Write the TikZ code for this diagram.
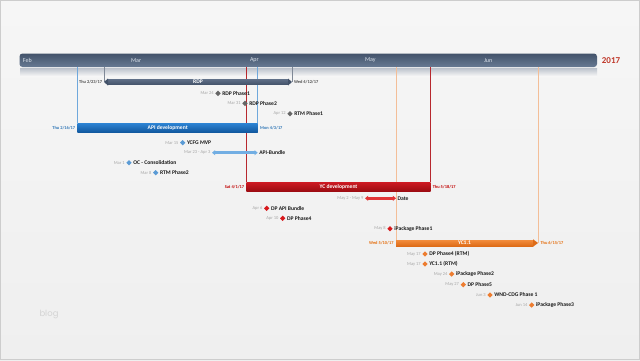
\documentclass[tikz,border=0pt]{standalone}
\usepackage{fontspec}
\setmainfont{Carlito}
\newfontfamily\blogfont{Poppins}
\usetikzlibrary{shapes.geometric,arrows.meta}
\definecolor{bgtop}{HTML}{F6F6F6}
\definecolor{bgbot}{HTML}{EFEFEF}
\definecolor{bordc}{HTML}{CDCDCD}
\definecolor{tltop}{HTML}{43536B}
\definecolor{tlbot}{HTML}{677A93}
\definecolor{striptop}{HTML}{BFC5CE}
\definecolor{monthc}{HTML}{DCE3EC}
\definecolor{yearc}{HTML}{C0392B}
\definecolor{slatetop}{HTML}{5E6E86}
\definecolor{slatebot}{HTML}{435269}
\definecolor{bluetop}{HTML}{2C82D2}
\definecolor{bluebot}{HTML}{1259A0}
\definecolor{redtop}{HTML}{CC1A22}
\definecolor{redbot}{HTML}{9C0C12}
\definecolor{orgtop}{HTML}{F28C3C}
\definecolor{orgbot}{HTML}{DE6C18}
\definecolor{lineblue}{HTML}{6FA8DC}
\definecolor{linered}{HTML}{B7282E}
\definecolor{lineorg}{HTML}{F3BE98}
\definecolor{linegray}{HTML}{7F8896}
\definecolor{msgray}{HTML}{666666}
\definecolor{msblue}{HTML}{5B9BD5}
\definecolor{msred}{HTML}{D7191C}
\definecolor{msorange}{HTML}{ED7D31}
\definecolor{abblue}{HTML}{72AEE3}
\definecolor{datered}{HTML}{E23436}
\definecolor{dategray}{HTML}{A6A6A6}
\definecolor{txt}{HTML}{1A1A1A}
\definecolor{tgray}{HTML}{4D4D4D}
\definecolor{tblue}{HTML}{2E75B6}
\definecolor{tred}{HTML}{C00000}
\definecolor{torange}{HTML}{E46C0A}
\definecolor{blogc}{HTML}{D4D4D4}
\newcommand\mstone[6]{%
  \node[ms, fill=#4] (#1) at (#2,#3) {};
  \node[dt] (#1d) at (#1.west) {#5};
  \node[lbl] (#1l) at (#1.east) {#6};
}
\begin{document}
\begin{tikzpicture}[x=1pt,y=-1pt,
  every node/.style={inner sep=0pt, outer sep=0pt},
  ms/.style={diamond, minimum size=5.4pt, inner sep=0pt},
  lbl/.style={right=1.6pt, font=\fontsize{5.6}{6}\selectfont\bfseries, text=txt},
  dt/.style={left=1.6pt, font=\fontsize{4.5}{5}\selectfont, text=dategray},
  edl/.style={font=\fontsize{4.4}{5}\selectfont\bfseries},
  month/.style={anchor=west, font=\fontsize{6}{7}\selectfont, text=monthc},
  barlbl/.style={font=\fontsize{5.6}{6}\selectfont\bfseries, text=white},
  tlbar/.style={rectangle, rounded corners=3pt, minimum width=577.5pt, minimum height=13.5pt, top color=tltop, bottom color=tlbot},
  vline/.style={line width=0.7pt},
  ivarrow/.style={line width=3pt, {Triangle[length=3.2pt,width=5pt]}-{Triangle[length=3.2pt,width=5pt]}}
]
\useasboundingbox (0,0) rectangle (640,360);
\shade[top color=bgtop, bottom color=bgbot] (0,0) rectangle (640,360);
\draw[bordc, line width=1.2pt] (0.6,0.6) rectangle (639.4,359.4);

% timeline
\shade[top color=striptop, bottom color=bgtop] (20,68.5) rectangle (597,76);
\node[tlbar] (tl) at (308.25,60.25) {};
\node[month] (feb) at (23,60.5) {Feb};
\node[month] (mar) at (131,60.5) {Mar};
\node[month] (apr) at (250,60.5) {Apr};
\node[month] (may) at (365,60.5) {May};
\node[month] (jun) at (484,60.5) {Jun};
\node[font=\fontsize{9}{10}\selectfont\bfseries, text=yearc] (yr) at (611,60.5) {2017};

% bar anchors
\coordinate (rdpL) at (104,82);
\coordinate (rdpR) at (292,82);
\coordinate (yc11R) at (538,243);
\coordinate (yc11L) at (396,243);

% bars
\node[minimum width=180pt, minimum height=8.7pt, top color=bluetop, bottom color=bluebot, barlbl] (api) at (167.7,127.7) {};
\node[minimum width=183.6pt, minimum height=9pt, top color=redtop, bottom color=redbot, barlbl] (ycd) at (338.5,186.8) {};

% vertical lines
\draw[vline, linegray] (rdpL |- tl.south) -- (rdpL);
\draw[vline, linegray] (rdpR |- tl.south) -- (rdpR);
\draw[vline, lineblue] (api.north west |- tl.south) -- (api.north west);
\draw[vline, lineblue] (api.north east |- tl.south) -- (api.north east);
\draw[vline, linered] (ycd.north west |- tl.south) -- (ycd.north west);
\draw[vline, linered] (ycd.north east |- tl.south) -- (ycd.north east);
\draw[vline, lineorg] (yc11L |- tl.south) -- (yc11L);
\draw[vline, lineorg] (yc11R |- tl.south) -- (yc11R);

% bars on top of lines
\node[minimum width=180pt, minimum height=8.7pt, top color=bluetop, bottom color=bluebot, barlbl] (api2) at (api) {API development};
\node[minimum width=183.6pt, minimum height=9pt, top color=redtop, bottom color=redbot, barlbl] (ycd2) at (ycd) {YC development};

% RDP bar with two heads
\node[minimum width=180pt, minimum height=5.4pt, top color=slatetop, bottom color=slatebot, barlbl] (rdp) at (198,82) {RDP};
\fill[slatebot] ([yshift=0.8pt]rdp.north west) -- (rdpL) -- ([yshift=-0.8pt]rdp.south west) -- cycle;
\fill[slatebot] ([yshift=0.8pt]rdp.north east) -- (rdpR) -- ([yshift=-0.8pt]rdp.south east) -- cycle;

% YC1.1 bar with right head
\node[minimum width=137pt, minimum height=6pt, top color=orgtop, bottom color=orgbot, barlbl] (yc11) at (464.5,243) {YC1.1};
\fill[orgbot] ([yshift=0.8pt]yc11.north east) -- (yc11R) -- ([yshift=-0.8pt]yc11.south east) -- cycle;

% bar end labels
\node[edl, text=tgray, left=2pt] (rdpLd) at (rdpL) {Thu 2/23/17};
\node[edl, text=tgray, right=2pt] (rdpRd) at (rdpR) {Wed 4/12/17};
\node[edl, text=tblue, left=2.5pt] (apiLd) at (api.west) {Thu 2/16/17};
\node[edl, text=tblue, right=2.5pt] (apiRd) at (api.east) {Mon 4/3/17};
\node[edl, text=tred, left=2.5pt] (ycdLd) at (ycd.west) {Sat 4/1/17};
\node[edl, text=tred, right=2.5pt] (ycdRd) at (ycd.east) {Thu 5/18/17};
\node[edl, text=torange, left=2.5pt] (yc11Ld) at (yc11.west) {Wed 5/10/17};
\node[edl, text=torange, right=2.5pt] (yc11Rd) at (yc11R) {Thu 6/15/17};

% interval arrows
\coordinate (abL) at (212,152.7);
\coordinate (abR) at (257.7,152.7);
\draw[ivarrow, abblue] (abL) -- (abR);
\node[dt] (abd) at (abL) {Mar 23 - Apr 3};
\node[lbl] (abl) at (abR) {API-Bundle};
\coordinate (dtL) at (365,198.3);
\coordinate (dtR) at (396,198.3);
\draw[ivarrow, datered] (dtL) -- (dtR);
\node[dt] (dtd) at (dtL) {May 2 - May 9};
\node[lbl] (dtl) at (dtR) {Date};

% milestones
\mstone{m1}{218}{93.3}{msgray}{Mar 24}{RDP Phase1}
\mstone{m2}{245}{103.3}{msgray}{Mar 31}{RDP Phase2}
\mstone{m3}{290}{113.7}{msgray}{Apr 12}{RTM Phase1}
\mstone{m4}{182.7}{142.7}{msblue}{Mar 15}{YCFG MVP}
\mstone{m5}{129}{162.7}{msblue}{Mar 1}{OC - Consolidation}
\mstone{m6}{155.7}{172.7}{msblue}{Mar 8}{RTM Phase2}
\mstone{m7}{266.7}{208.3}{msred}{Apr 6}{DP API Bundle}
\mstone{m8}{282.7}{218.3}{msred}{Apr 10}{DP Phase4}
\mstone{m9}{390}{228.7}{msred}{May 8}{iPackage Phase1}
\mstone{m10}{425}{254}{msorange}{May 17}{DP Phase4 (RTM)}
\mstone{m11}{425}{264}{msorange}{May 17}{YC1.1 (RTM)}
\mstone{m12}{451.7}{274}{msorange}{May 24}{iPackage Phase2}
\mstone{m13}{463.3}{284.7}{msorange}{May 27}{DP Phase5}
\mstone{m14}{490}{295}{msorange}{Jun 3}{WND-CDG Phase 1}
\mstone{m15}{531.7}{305}{msorange}{Jun 14}{iPackage Phase3}

% watermark
\node[anchor=west, font=\blogfont\fontsize{8.5}{9}\selectfont, text=blogc] (blog) at (39.5,314.5) {blog};
\end{tikzpicture}
\end{document}
